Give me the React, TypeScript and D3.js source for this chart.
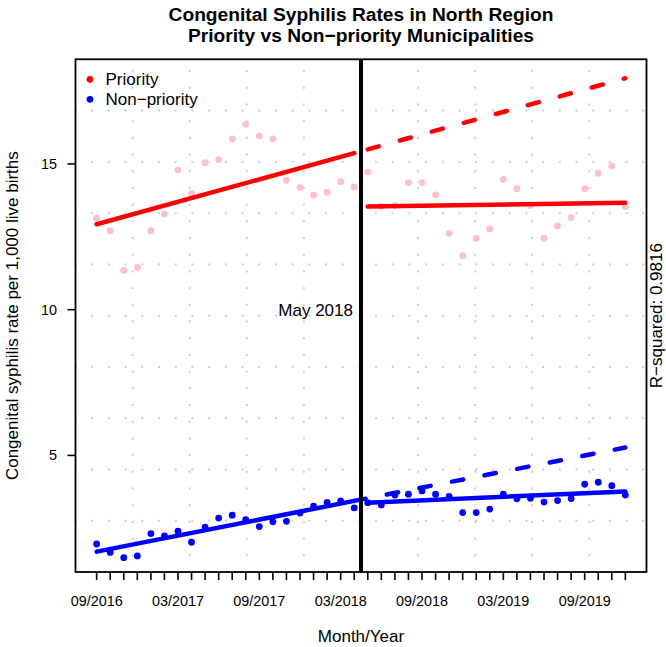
import React from "react";
import * as d3 from "d3";

const months = [
  "09/2016","10/2016","11/2016","12/2016","01/2017","02/2017","03/2017","04/2017","05/2017","06/2017",
  "07/2017","08/2017","09/2017","10/2017","11/2017","12/2017","01/2018","02/2018","03/2018","04/2018",
  "05/2018","06/2018","07/2018","08/2018","09/2018","10/2018","11/2018","12/2018","01/2019","02/2019",
  "03/2019","04/2019","05/2019","06/2019","07/2019","08/2019","09/2019","10/2019","11/2019","12/2019",
];
const tickLabels = ["09/2016","03/2017","09/2017","03/2018","09/2018","03/2019","09/2019"];
const yTicks = [5, 10, 15];

const priority = [
  13.14, 12.71, 11.35, 11.45, 12.71, 13.28, 14.79, 13.99, 15.04, 15.14,
  15.86, 16.36, 15.96, 15.86, 14.44, 14.19, 13.93, 14.03, 14.39, 14.21,
  14.72, 13.54, 13.57, 14.36, 14.36, 13.94, 12.62, 11.85, 12.45, 12.77,
  14.47, 14.15, 13.57, 12.45, 12.87, 13.16, 14.15, 14.68, 14.93, 13.54,
];
const nonPriority = [
  1.96, 1.67, 1.49, 1.55, 2.32, 2.24, 2.40, 2.02, 2.54, 2.85,
  2.95, 2.80, 2.56, 2.72, 2.74, 3.02, 3.26, 3.39, 3.44, 3.20,
  3.38, 3.30, 3.64, 3.67, 3.78, 3.67, 3.59, 3.04, 3.04, 3.16,
  3.67, 3.51, 3.53, 3.40, 3.45, 3.52, 4.01, 4.08, 3.96, 3.64,
];

// fitted segments (month, fitted value)
const priorityPre = [{ m: "09/2016", v: 12.93 }, { m: "04/2018", v: 15.37 }];
const priorityPost = [{ m: "05/2018", v: 13.54 }, { m: "12/2019", v: 13.67 }];
const priorityCounter = [{ m: "05/2018", v: 15.50 }, { m: "12/2019", v: 17.94 }];
const nonPre = [{ m: "09/2016", v: 1.70 }, { m: "04/2018", v: 3.44 }];
const nonPost = [{ m: "05/2018", v: 3.38 }, { m: "12/2019", v: 3.76 }];
const nonCounter = [{ m: "04/2018", v: 3.44 }, { m: "12/2019", v: 5.27 }];

const interventionIndex = 19.5;
const interventionLabel = "May 2018";
const rSquared = "R\u2212squared: 0.9816";

const W = 666, H = 647;
const L = 75.5, R = 646.5, T = 59.3, B = 572;
const FONT = "'Liberation Sans', Arial, Helvetica, sans-serif";
const FS = 17;
const FS_AXIS = 14.4;
const FS_TITLE = 19.2;

export default function App() {
  const n = months.length;
  const pad = (n - 1) * 0.04;
  const x = d3.scaleLinear().domain([-pad, n - 1 + pad]).range([L, R]);
  const y = d3.scaleLinear().domain([1.0, 18.59]).range([B, T]);
  const idx = (m: string) => months.indexOf(m);

  const line = d3.line<{ m: string; v: number }>().x(d => x(idx(d.m))).y(d => y(d.v));

  const xd = x.domain(), yd = y.domain();
  const vGrid = d3.range(1, 10).map(k => xd[0] + (xd[1] - xd[0]) * k / 10);
  const hGrid = d3.range(1, 10).map(k => yd[0] + (yd[1] - yd[0]) * k / 10);

  const cy = (T + B) / 2;

  return (
    <svg width={W} height={H} style={{ display: "block", position: "absolute", left: 0, top: 0 }} fontFamily={FONT}>
      <rect width={W} height={H} fill="white" />
      <text x={(L + R) / 2} y={21} textAnchor="middle" fontWeight="bold" fontSize={FS_TITLE}>Congenital Syphilis Rates in North Region</text>
      <text x={(L + R) / 2} y={42} textAnchor="middle" fontWeight="bold" fontSize={FS_TITLE}>Priority vs Non{"\u2212"}priority Municipalities</text>

      {/* grid */}
      <g stroke="#d3d3d3" strokeWidth={2.4} strokeLinecap="round" strokeDasharray="0 16.7" fill="none">
        {hGrid.map((g, i) => (
          <line key={"h" + i} x1={L} x2={R} y1={y(g)} y2={y(g)} />
        ))}
        {vGrid.map((g, i) => (
          <line key={"v" + i} x1={x(g)} x2={x(g)} y1={B} y2={T} />
        ))}
      </g>

      {/* points */}
      {priority.map((v, i) => (
        <circle key={"p" + i} cx={x(i)} cy={y(v)} r={3.4} fill="#FFC0CB" />
      ))}
      {nonPriority.map((v, i) => (
        <circle key={"n" + i} cx={x(i)} cy={y(v)} r={3.4} fill="blue" />
      ))}

      {/* fitted lines */}
      <g fill="none" strokeWidth={4.5} strokeLinecap="round">
        <path d={line(priorityPre) || ""} stroke="red" />
        <path d={line(priorityPost) || ""} stroke="red" />
        <path d={line(priorityCounter) || ""} stroke="red" strokeDasharray="11.5 21.7" />
        <path d={line(nonPre) || ""} stroke="blue" />
        <path d={line(nonPost) || ""} stroke="blue" />
        <path d={line(nonCounter) || ""} stroke="blue" strokeDasharray="11.5 21.7" />
      </g>

      {/* intervention */}
      <line x1={x(interventionIndex)} x2={x(interventionIndex)} y1={T} y2={B} stroke="black" strokeWidth={4} />
      <text x={x(interventionIndex) - 8} y={y(10) + 6} textAnchor="end" fontSize={FS}>{interventionLabel}</text>

      {/* border */}
      <rect x={L} y={T} width={R - L} height={B - T} fill="none" stroke="black" strokeWidth={1.8} />

      {/* x axis */}
      <g stroke="black" strokeWidth={1.6}>
        {months.map((m, i) => (
          <line key={"t" + i} x1={x(i)} x2={x(i)} y1={B} y2={B + 8} />
        ))}
      </g>
      {tickLabels.map(t => (
        <text key={t} x={x(idx(t))} y={606} textAnchor="middle" fontSize={FS_AXIS}>{t}</text>
      ))}
      <text x={(L + R) / 2} y={642} textAnchor="middle" fontSize={FS}>Month/Year</text>

      {/* y axis */}
      <g stroke="black" strokeWidth={1.6}>
        {yTicks.map(t => (
          <line key={"y" + t} x1={L - 8} x2={L} y1={y(t)} y2={y(t)} />
        ))}
      </g>
      {yTicks.map(t => (
        <text key={"yl" + t} x={57} y={y(t) + 5} textAnchor="end" fontSize={FS_AXIS}>{t}</text>
      ))}
      <text transform={`translate(17.5,${cy}) rotate(-90)`} textAnchor="middle" fontSize={FS}>Congenital syphilis rate per 1,000 live births</text>
      <text transform={`translate(662,${cy}) rotate(-90)`} textAnchor="middle" fontSize={FS}>{rSquared}</text>

      {/* legend */}
      <circle cx={90} cy={79.3} r={3.4} fill="red" />
      <circle cx={90} cy={99.3} r={3.4} fill="blue" />
      <text x={105.5} y={85.3} fontSize={FS}>Priority</text>
      <text x={105.5} y={105.3} fontSize={FS}>Non{"\u2212"}priority</text>
    </svg>
  );
}
